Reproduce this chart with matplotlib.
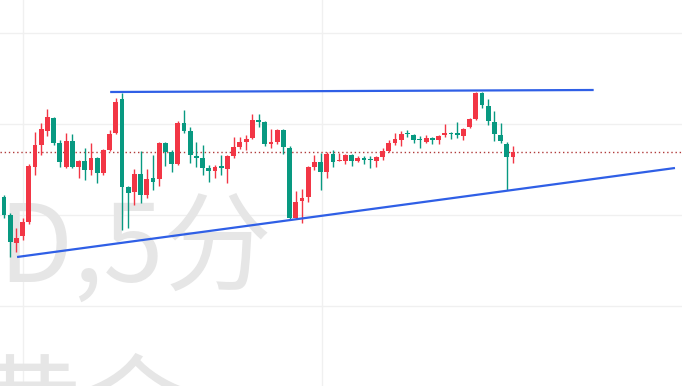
import numpy as np
import matplotlib
matplotlib.use("Agg")
import matplotlib.pyplot as plt

plt.rcParams['font.family'] = ['Noto Sans CJK SC', 'DejaVu Sans']

# 5-minute candles, price level (up = red, down = green)
opens = [192, 203, 185, 157, 164, 178, 233, 255, 269, 282, 257, 233, 259, 233, 239, 230, 242, 227, 250, 267,
         301, 213, 208, 226, 205, 222, 221, 257, 248, 236, 277, 269, 244, 242, 232, 229, 234, 231, 244, 253,
         258, 262, 280, 278, 256, 258, 270, 252, 182, 199, 203, 233, 238, 228, 246, 239, 239, 245, 239, 242,
         241, 239, 243, 249, 257, 260, 267, 265, 261, 258, 262, 260, 265, 267, 267, 264, 273, 281, 307, 294,
         278, 265, 256, 243]
highs = [203, 205, 187, 172, 182, 236, 268, 277, 291, 283, 260, 267, 266, 240, 252, 257, 243, 251, 270, 302,
         307, 214, 231, 249, 231, 245, 258, 258, 250, 279, 290, 273, 258, 255, 235, 235, 245, 245, 263, 263,
         265, 286, 286, 279, 271, 271, 271, 254, 209, 211, 234, 245, 247, 248, 250, 247, 246, 246, 244, 244,
         244, 244, 252, 260, 267, 269, 270, 266, 264, 265, 263, 265, 276, 268, 278, 272, 282, 308, 308, 301,
         289, 277, 258, 254]
lows = [191, 182, 143, 148, 160, 176, 225, 245, 264, 255, 233, 232, 232, 222, 220, 225, 217, 225, 249, 266,
        170, 172, 195, 197, 202, 210, 214, 234, 228, 235, 267, 237, 233, 225, 218, 222, 225, 217, 242, 251,
        250, 261, 273, 254, 252, 256, 246, 181, 181, 177, 198, 230, 210, 222, 233, 239, 236, 234, 238, 236,
        232, 233, 240, 248, 255, 254, 263, 257, 252, 257, 256, 256, 263, 261, 262, 260, 272, 280, 292, 275,
        259, 257, 210, 237]
closes = [202, 185, 158, 162, 178, 234, 255, 271, 283, 257, 238, 259, 233, 239, 230, 242, 227, 250, 266, 298,
          213, 207, 226, 205, 221, 218, 257, 248, 236, 277, 269, 245, 242, 232, 229, 233, 232, 244, 253, 258,
          261, 280, 278, 256, 258, 270, 253, 182, 198, 202, 233, 238, 228, 246, 238, 240, 245, 239, 242, 240,
          240, 243, 249, 257, 261, 266, 266, 260, 260, 262, 260, 264, 267, 266, 265, 271, 281, 307, 295, 279,
          266, 259, 243, 248]

# drawn objects: two trend lines (candle index, price) and the last-price line
upper_x = [18.1, 96.0]
upper_y = [308, 310]
lower_x = [3.1, 109.1]
lower_y = [143, 232]
last_price = 248

up_color = "#f23645"
down_color = "#089981"
line_blue = "#2f5fe6"

fig = plt.figure(figsize=(6.82, 3.86), dpi=100)
ax = fig.add_axes([0, 0, 1, 1])
ax.set_xlim(0.35, 110.23)
ax.set_ylim(14, 400)
ax.axis("off")

# faint grid
for gy in [367, 276, 185, 94]:
    ax.axhline(gy, color="#f0f0f0", lw=1, zorder=0)
for gx in [4.06, 52.23]:
    ax.axvline(gx, color="#f0f0f0", lw=1, zorder=0)

# watermark (cropped by the picture edges, as in the screenshot)
ax.text(272 / 682, 1 - 282 / 386, "XAUUSD,5分", transform=fig.transFigure,
        ha="right", va="baseline", fontsize=78, color="#e6e6e6", zorder=0.5)
ax.text(190 / 682, 1 - 445 / 386, "黄金", transform=fig.transFigure,
        ha="right", va="baseline", fontsize=78, color="#e6e6e6", zorder=0.5)

idx = np.arange(len(opens))
o = np.array(opens)
c = np.array(closes)
colors = [up_color if cc >= oo else down_color for oo, cc in zip(o, c)]
ax.vlines(idx, lows, highs, colors=colors, lw=1, zorder=3)
body_bottom = np.minimum(o, c)
body_h = np.maximum(np.abs(c - o), 1)
ax.bar(idx, body_h, bottom=body_bottom, width=0.78, color=colors, lw=0, zorder=4)

ax.axhline(last_price, color="#b03a3a", lw=1, linestyle=(0, (1, 2)), zorder=2)

ax.plot(upper_x, upper_y, color=line_blue, lw=1.6, solid_capstyle="butt", zorder=5)
ax.plot(lower_x, lower_y, color=line_blue, lw=1.6, solid_capstyle="butt", zorder=5)

fig.savefig("out.png", dpi=100)
